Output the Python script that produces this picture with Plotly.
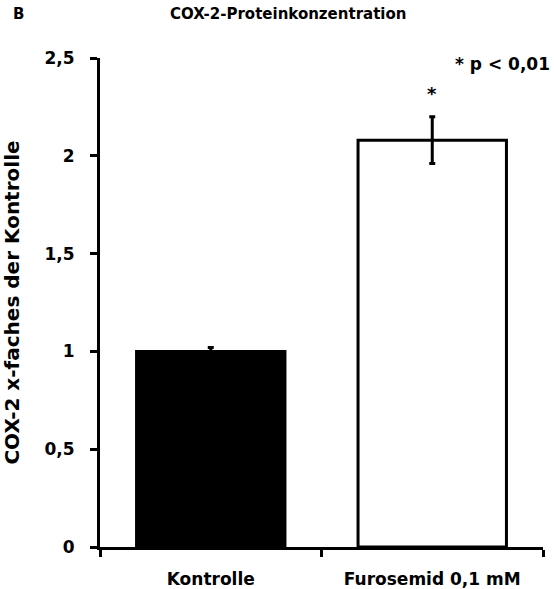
import plotly.graph_objects as go

# Data
groups = ["Kontrolle", "Furosemid 0,1 mM"]
fold_change = [1.0, 2.08]
sem = [0.02, 0.12]
bar_colors = ["black", "white"]
y_ticks = [0, 0.5, 1, 1.5, 2, 2.5]
y_tick_labels = ["0", "0,5", "1", "1,5", "2", "2,5"]

FONT = "DejaVu Sans, Arial, sans-serif"
x_pos = [i + 0.5 for i in range(len(groups))]

fig = go.Figure()
fig.add_trace(go.Bar(
    x=x_pos,
    y=fold_change,
    width=0.67,
    marker=dict(color=bar_colors, line=dict(color="black", width=3)),
    error_y=dict(type="data", array=sem, visible=True, color="black",
                 thickness=3, width=3),
    showlegend=False,
))

fig.update_layout(
    width=554, height=589,
    margin=dict(l=100, r=11, t=58, b=42),
    paper_bgcolor="white", plot_bgcolor="white",
    font=dict(family=FONT, size=17, color="black", weight="bold"),
    xaxis=dict(
        range=[0, 2], showgrid=False, zeroline=False, automargin=False,
        showline=True, linecolor="black", linewidth=3,
        tickvals=x_pos, ticktext=groups, ticks="",
        ticklabelstandoff=15,
        tickfont=dict(family=FONT, size=17, weight="bold"),
        minor=dict(tickvals=[0, 1, 2], ticks="outside", ticklen=7,
                   tickwidth=3, tickcolor="black"),
    ),
    yaxis=dict(
        range=[0, 2.5], showgrid=False, zeroline=False, automargin=False,
        showline=True, linecolor="black", linewidth=3,
        tickvals=y_ticks, ticktext=y_tick_labels,
        ticks="outside", ticklen=7, tickwidth=3, tickcolor="black",
        ticklabelstandoff=12,
        tickfont=dict(family=FONT, size=17, weight="bold"),
        title=dict(text="COX-2 x-faches der Kontrolle", standoff=20,
                   font=dict(family=FONT, size=20, weight="bold")),
    ),
    annotations=[
        dict(text="B", xref="paper", yref="paper", x=-0.2, y=1.0,
             yshift=44, xanchor="left", yanchor="middle", showarrow=False,
             font=dict(family=FONT, size=15, weight="bold")),
        dict(text="COX-2-Proteinkonzentration", xref="paper", yref="paper",
             x=0.425, y=1.0, yshift=44, xanchor="center", yanchor="middle",
             showarrow=False, font=dict(family=FONT, size=15, weight="bold")),
        dict(text="* p < 0,01", xref="paper", yref="y", x=1.02, y=2.47,
             xanchor="right", yanchor="middle", showarrow=False,
             font=dict(family=FONT, size=17, weight="bold")),
        dict(text="*", xref="x", yref="y", x=x_pos[1], y=2.32,
             xanchor="center", yanchor="middle", showarrow=False,
             font=dict(family=FONT, size=18, weight="bold")),
    ],
)

fig.write_html("out.html")
